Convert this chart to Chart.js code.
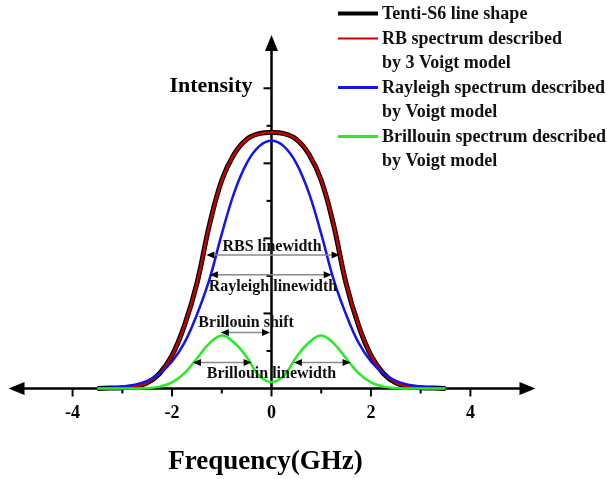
<!DOCTYPE html>
<html>
<head>
<meta charset="utf-8">
<script src="https://cdn.jsdelivr.net/npm/chart.js@4.4.1/dist/chart.umd.min.js"></script>
<style>
html, body { margin: 0; padding: 0; background: #fff; }
</style>
</head>
<body>
<canvas id="myChart" width="607" height="479"></canvas>
<script>
// frequency grid (GHz) and intensities
var freq = [-3.5, -3.25, -3, -2.75, -2.5, -2.25, -2, -1.75, -1.5, -1.25, -1, -0.75, -0.5, -0.25, 0,
            0.25, 0.5, 0.75, 1, 1.25, 1.5, 1.75, 2, 2.25, 2.5, 2.75, 3, 3.25, 3.5];
var tentiS6   = [0, 0.01, 0.02, 0.05, 0.15, 0.4, 0.88, 1.68, 2.8, 4.35, 5.55, 6.25, 6.64, 6.79, 6.82,
                 6.79, 6.64, 6.25, 5.55, 4.35, 2.8, 1.68, 0.88, 0.4, 0.15, 0.05, 0.02, 0.01, 0];
var rbVoigt   = [0, 0.01, 0.02, 0.05, 0.15, 0.4, 0.88, 1.68, 2.8, 4.35, 5.55, 6.25, 6.64, 6.79, 6.82,
                 6.79, 6.64, 6.25, 5.55, 4.35, 2.8, 1.68, 0.88, 0.4, 0.15, 0.05, 0.02, 0.01, 0];
var rayleigh  = [0.01, 0.02, 0.05, 0.1, 0.2, 0.4, 0.72, 1.22, 1.97, 2.9, 4.12, 5.22, 6.0, 6.45, 6.6,
                 6.45, 6.0, 5.22, 4.12, 2.9, 1.97, 1.22, 0.72, 0.4, 0.2, 0.1, 0.05, 0.02, 0.01];
var brillouin = [0, 0, 0, 0, 0.01, 0.05, 0.16, 0.41, 0.8, 1.2, 1.41, 1.22, 0.84, 0.34, 0.17,
                 0.34, 0.84, 1.22, 1.41, 1.2, 0.8, 0.41, 0.16, 0.05, 0.01, 0, 0, 0, 0];

var xTickValues = [-4, -2, 0, 2, 4];
var xTickLabels = ['-4', '-2', '0', '2', '4'];
var legendText = [
  ['Tenti-S6 line shape'],
  ['RB spectrum described', 'by 3 Voigt model'],
  ['Rayleigh spectrum described', 'by Voigt model'],
  ['Brillouin spectrum described', 'by Voigt model']
];

function points(ys) {
  return freq.map(function (f, i) { return { x: f, y: ys[i] }; });
}

var SERIF = '"Liberation Serif", "Times New Roman", serif';

function head(ctx, x, y, ang, len, half) {
  ctx.save();
  ctx.translate(x, y);
  ctx.rotate(ang);
  ctx.beginPath();
  ctx.moveTo(0, 0);
  ctx.lineTo(-len, -half);
  ctx.lineTo(-len, half);
  ctx.closePath();
  ctx.fill();
  ctx.restore();
}

// double headed gray arrow with black heads, in data coords
function dimArrow(ctx, xs, ys, x1, x2, y) {
  var a = xs.getPixelForValue(x1), b = xs.getPixelForValue(x2), py = ys.getPixelForValue(y);
  ctx.strokeStyle = '#8a8a8a';
  ctx.lineWidth = 1.5;
  ctx.beginPath();
  ctx.moveTo(a + 3, py);
  ctx.lineTo(b - 3, py);
  ctx.stroke();
  ctx.fillStyle = '#000';
  head(ctx, a, py, Math.PI, 8, 3.5);
  head(ctx, b, py, 0, 8, 3.5);
}

var extras = {
  id: 'extras',
  beforeDatasetsDraw: function (chart) {
    var ctx = chart.ctx, xs = chart.scales.x, ys = chart.scales.y;
    var x0 = xs.getPixelForValue(0), y0 = ys.getPixelForValue(0);
    ctx.save();
    ctx.strokeStyle = '#000';
    ctx.fillStyle = '#000';
    ctx.lineWidth = 2.5;
    // x axis with arrows both ways
    var xl = xs.getPixelForValue(-5.29), xr = xs.getPixelForValue(5.31);
    ctx.beginPath();
    ctx.moveTo(xl + 10, y0);
    ctx.lineTo(xr - 10, y0);
    ctx.stroke();
    head(ctx, xl, y0, Math.PI, 16, 6.5);
    head(ctx, xr, y0, 0, 16, 6.5);
    // y axis
    var yt = ys.getPixelForValue(9.42);
    ctx.beginPath();
    ctx.moveTo(x0, y0 + 1);
    ctx.lineTo(x0, yt + 10);
    ctx.stroke();
    head(ctx, x0, yt, -Math.PI / 2, 16, 6.5);
    // ticks
    ctx.lineWidth = 2;
    for (var v = -4; v <= 4; v++) {
      var px = xs.getPixelForValue(v);
      ctx.beginPath();
      ctx.moveTo(px, y0);
      ctx.lineTo(px, y0 + (v % 2 === 0 ? 8 : 5));
      ctx.stroke();
    }
    for (var u = 1; u <= 8; u++) {
      var py = ys.getPixelForValue(u);
      ctx.beginPath();
      ctx.moveTo(x0, py);
      ctx.lineTo(x0 - (u % 2 === 0 ? 8 : 5), py);
      ctx.stroke();
    }
    // tick labels
    ctx.font = 'bold 18px ' + SERIF;
    ctx.textAlign = 'center';
    ctx.textBaseline = 'middle';
    xTickValues.forEach(function (t, i) {
      ctx.fillText(xTickLabels[i], xs.getPixelForValue(t), y0 + 25);
    });
    // axis titles
    ctx.font = 'bold 27px ' + SERIF;
    ctx.fillText('Frequency(GHz)', 265.5, 462);
    ctx.font = 'bold 22px ' + SERIF;
    ctx.fillText('Intensity', 211, 86);
    ctx.restore();
  },
  afterDatasetsDraw: function (chart) {
    var ctx = chart.ctx, xs = chart.scales.x, ys = chart.scales.y;
    ctx.save();
    dimArrow(ctx, xs, ys, -1.31, 1.37, 3.56);
    dimArrow(ctx, xs, ys, -1.24, 1.21, 3.03);
    dimArrow(ctx, xs, ys, -1.02, -0.03, 1.49);
    dimArrow(ctx, xs, ys, -1.58, -0.40, 0.69);
    dimArrow(ctx, xs, ys, 0.45, 1.59, 0.69);

    ctx.fillStyle = '#111';
    ctx.font = 'bold 16px ' + SERIF;
    ctx.textAlign = 'center';
    ctx.textBaseline = 'middle';
    ctx.fillText('RBS linewidth', xs.getPixelForValue(0.01), ys.getPixelForValue(3.77));
    ctx.fillText('Rayleigh linewidth', xs.getPixelForValue(0.03), ys.getPixelForValue(2.7));
    ctx.fillText('Brillouin shift', xs.getPixelForValue(-0.51), ys.getPixelForValue(1.76));
    ctx.fillText('Brillouin linewidth', xs.getPixelForValue(0), ys.getPixelForValue(0.4));

    // legend
    var ds = chart.data.datasets;
    var sampleW = [4, 2, 3, 3];
    var rowY = 13.5, step = 24;
    ctx.textAlign = 'left';
    ctx.font = 'bold 18px ' + SERIF;
    legendText.forEach(function (lines, i) {
      ctx.strokeStyle = ds[i].borderColor;
      ctx.lineWidth = sampleW[i];
      ctx.beginPath();
      ctx.moveTo(338, rowY);
      ctx.lineTo(378, rowY);
      ctx.stroke();
      ctx.fillStyle = '#111';
      lines.forEach(function (ln) {
        ctx.fillText(ln, 382, rowY + 1);
        rowY += step;
      });
      rowY += 1;
    });
    ctx.restore();
  }
};

var ctx = document.getElementById('myChart').getContext('2d');
var myChart = new Chart(ctx, {
  type: 'line',
  data: {
    datasets: [
      { label: 'Tenti-S6 line shape', data: points(tentiS6), borderColor: '#000000', borderWidth: 5, order: 4 },
      { label: 'RB spectrum described by 3 Voigt model', data: points(rbVoigt), borderColor: '#c80000', borderWidth: 2.5, order: 3 },
      { label: 'Rayleigh spectrum described by Voigt model', data: points(rayleigh), borderColor: '#1414f0', borderWidth: 2.5, order: 2 },
      { label: 'Brillouin spectrum described by Voigt model', data: points(brillouin), borderColor: '#22ee22', borderWidth: 2.5, order: 1 }
    ]
  },
  options: {
    responsive: false,
    animation: false,
    clip: false,
    layout: { padding: { left: 3, right: 67, top: 32, bottom: 53 } },
    elements: {
      point: { radius: 0 },
      line: { tension: 0.4, fill: false }
    },
    scales: {
      x: { type: 'linear', min: -5.4, max: 5.4, display: false },
      y: { type: 'linear', min: -1, max: 9.5, display: false }
    },
    plugins: {
      legend: { display: false },
      tooltip: { enabled: false }
    }
  },
  plugins: [extras]
});
</script>
</body>
</html>
